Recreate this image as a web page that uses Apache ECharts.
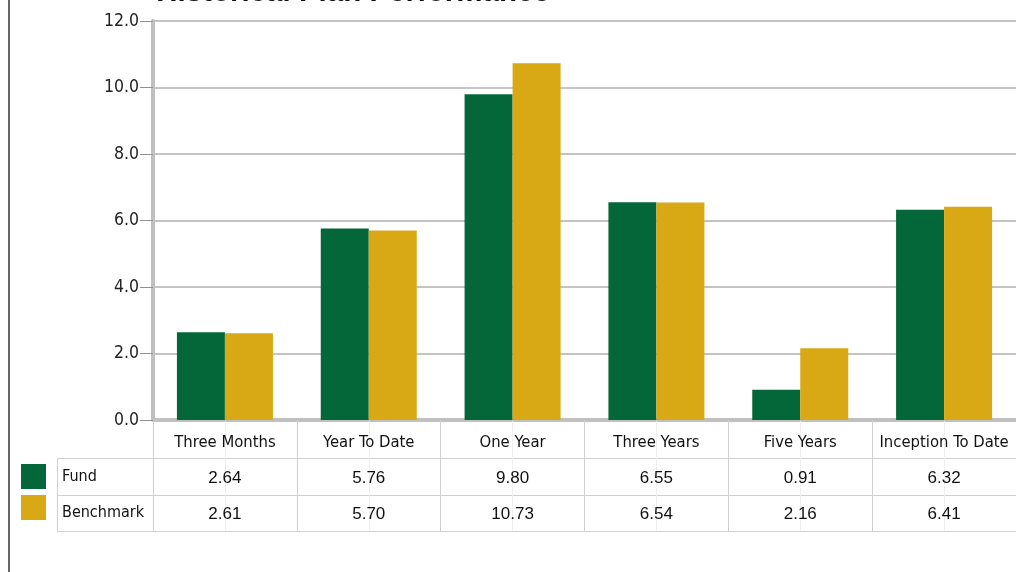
<!DOCTYPE html>
<html>
<head>
<meta charset="utf-8">
<script src="https://cdn.jsdelivr.net/npm/echarts@6/dist/echarts.min.js"></script>
<style>
  html, body { margin: 0; padding: 0; background: #fff; }
  #chart { width: 1016px; height: 572px; }
</style>
</head>
<body>
<div id="chart"></div>
<script>
var categories = ['Three Months', 'Year To Date', 'One Year', 'Three Years', 'Five Years', 'Inception To Date'];
var fundValues = [2.64, 5.76, 9.80, 6.55, 0.91, 6.32];
var benchmarkValues = [2.61, 5.70, 10.73, 6.54, 2.16, 6.41];
var yTicks = [0, 2, 4, 6, 8, 10, 12];

var narrow = "'Liberation Sans Narrow', 'DejaVu Sans Condensed', 'Liberation Sans', sans-serif";
var plain = "'Liberation Sans', Arial, sans-serif";
var green = '#03673a';
var gold = '#d9a815';
var tableLine = '#d0d0d0';

function fmt(v) { return v.toFixed(2); }

var chart = echarts.init(document.getElementById('chart'));

var option = {
  animation: false,
  title: {
    text: 'Historical Plan Performance',
    left: 348,
    textAlign: 'center',
    top: -27,
    textStyle: { fontFamily: plain, fontSize: 29.5, fontWeight: 'bold', color: '#111' }
  },
  legend: {
    orient: 'vertical',
    left: 21,
    top: 464,
    padding: 0,
    itemWidth: 25,
    itemHeight: 25,
    itemGap: 6,
    icon: 'rect',
    data: ['Fund', 'Benchmark'],
    // second label sits on its table row, a little below the swatch
    formatter: function (name) {
      return name === 'Benchmark' ? '{low|' + name + '}' : name;
    },
    textStyle: {
      fontFamily: narrow,
      fontSize: 16,
      color: '#111',
      padding: [0, 0, 0, 11],
      rich: {
        low: { fontFamily: narrow, fontSize: 16, color: '#111', padding: [11, 0, 0, 0] }
      }
    }
  },
  grid: { left: 153, right: -1, top: 21, bottom: 152, containLabel: false },
  yAxis: {
    type: 'value',
    min: yTicks[0],
    max: yTicks[yTicks.length - 1],
    interval: 2,
    axisLine: { show: true, lineStyle: { color: '#c0c0c0', width: 4 } },
    axisTick: { show: true, length: 13, lineStyle: { color: '#909090', width: 1 } },
    axisLabel: {
      margin: 14,
      fontFamily: narrow,
      fontSize: 17.5,
      color: '#222',
      formatter: function (v) { return v.toFixed(1); }
    },
    splitLine: { lineStyle: { color: '#c4c4c4', width: 2 } }
  },
  xAxis: [
    {
      type: 'category',
      data: categories,
      position: 'bottom',
      axisLine: { lineStyle: { color: '#c0c0c0', width: 4 } },
      axisTick: { show: true, interval: 0, length: 111, lineStyle: { color: tableLine, width: 1 } },
      axisLabel: { interval: 0, margin: 14, fontFamily: narrow, fontSize: 16.5, color: '#111' }
    },
    {
      type: 'category',
      data: fundValues.map(fmt),
      position: 'bottom',
      offset: 38,
      axisLine: { lineStyle: { color: tableLine, width: 1 } },
      axisTick: { show: true, interval: 0, alignWithLabel: true, inside: true, length: 37, lineStyle: { color: '#efefef' } },
      axisLabel: { interval: 0, margin: 12, fontFamily: plain, fontSize: 17, color: '#111' }
    },
    {
      type: 'category',
      data: benchmarkValues.map(fmt),
      position: 'bottom',
      offset: 75,
      axisLine: { lineStyle: { color: tableLine, width: 1 } },
      axisTick: { show: true, interval: 0, alignWithLabel: true, inside: true, length: 37, lineStyle: { color: '#efefef' } },
      axisLabel: { interval: 0, margin: 11, fontFamily: plain, fontSize: 17, color: '#111' }
    },
    {
      type: 'category',
      data: categories,
      position: 'bottom',
      offset: 111,
      axisLine: { lineStyle: { color: tableLine, width: 1 } },
      axisTick: { show: true, interval: 0, alignWithLabel: true, inside: true, length: 36, lineStyle: { color: '#efefef' } },
      axisLabel: { show: false }
    }
  ],
  series: [
    {
      name: 'Fund',
      type: 'bar',
      xAxisIndex: 0,
      barWidth: 48,
      barGap: '0%',
      itemStyle: { color: green },
      data: fundValues
    },
    {
      name: 'Benchmark',
      type: 'bar',
      xAxisIndex: 0,
      barWidth: 48,
      barGap: '0%',
      itemStyle: { color: gold },
      data: benchmarkValues
    }
  ],
  graphic: [
    // outer frame edge on the left
    { type: 'line', shape: { x1: 9, y1: 0, x2: 9, y2: 572 }, style: { stroke: '#333', lineWidth: 1.5 } },
    // name column of the data table
    { type: 'rect', shape: { x: 57.5, y: 458.5, width: 96, height: 73 }, style: { fill: 'none', stroke: tableLine, lineWidth: 1 } },
    { type: 'line', shape: { x1: 57, y1: 495.5, x2: 153, y2: 495.5 }, style: { stroke: tableLine, lineWidth: 1 } }
  ]
};

chart.setOption(option);
</script>
</body>
</html>
